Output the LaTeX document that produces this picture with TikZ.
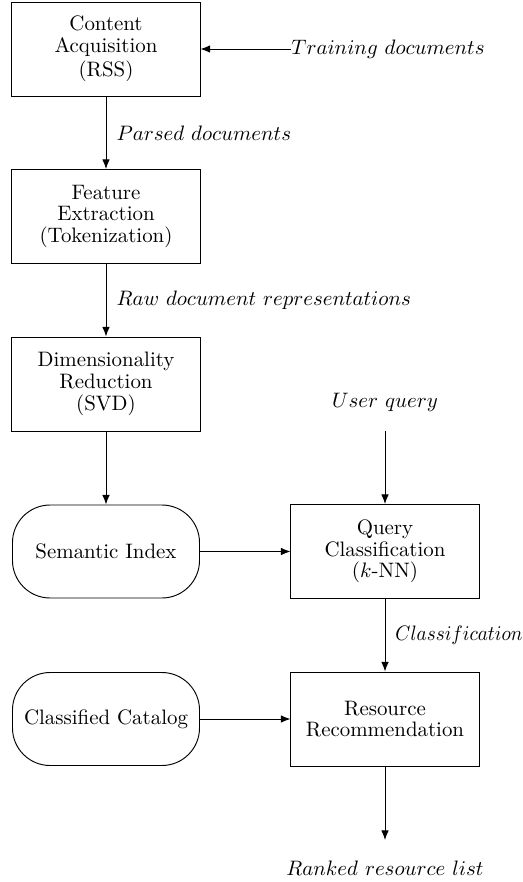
\documentclass[tikz,border=0pt]{standalone}
\usetikzlibrary{arrows.meta}
\begin{document}
\begin{tikzpicture}[x=0.4785pt, y=-0.4785pt,
  stage/.style={draw, line width=0.45pt, minimum width=90pt, minimum height=45pt,
    inner sep=0pt, align=center, font=\fontsize{10}{10.4}\selectfont},
  store/.style={draw, line width=0.45pt, rounded corners=18pt, minimum width=89.5pt,
    minimum height=44.5pt, inner sep=0pt, align=center},
  flow/.style={draw, line width=0.45pt, -{Latex[length=4.6pt,width=3.6pt]}},
  lbl/.style={inner sep=0pt}]
\useasboundingbox (0,0) rectangle (523,882);

% processing stages
\node[stage] (acq) at (106,49) {Content\\Acquisition\\[1.2pt](RSS)};
\node[stage] (feat) at (106,216.5) {Feature\\Extraction\\(Tokenization)};
\node[stage] (dim) at (106,384) {Dimensionality\\Reduction\\(SVD)};
\node[stage] (qc) at (385,551.5) {Query\\Classification\\($k$-NN)};
\node[stage] (rr) at (385,719) {Resource\\Recommendation};

% data stores
\node[store] (sem) at (106,551.5) {Semantic Index};
\node[store] (cat) at (106,719) {Classified Catalog};

% external inputs and outputs
\node[lbl, anchor=west] (train) at (291,49) {$Training\ documents$};
\node[lbl] (uq) at (385,402) {$User\ query$};
\coordinate (uqs) at (385,431);
\node[lbl] (ranked) at (385,868) {$Ranked\ resource\ list$};
\coordinate (rend) at (385,840);

% connectors
\draw[flow] (train.west) -- (acq.east);
\draw[flow] (acq) -- node[lbl, right=4.8pt] {$Parsed\ documents$} (feat);
\draw[flow] (feat) -- node[lbl, right=4.8pt] {$Raw\ document\ representations$} (dim);
\draw[flow] (dim) -- (sem);
\draw[flow] (uqs) -- (qc);
\draw[flow] (sem) -- (qc);
\draw[flow] (qc) -- node[lbl, right=4.8pt, xscale=0.92] {$Classification$} (rr);
\draw[flow] (cat) -- (rr);
\draw[flow] (rr) -- (rend);
\end{tikzpicture}
\end{document}
